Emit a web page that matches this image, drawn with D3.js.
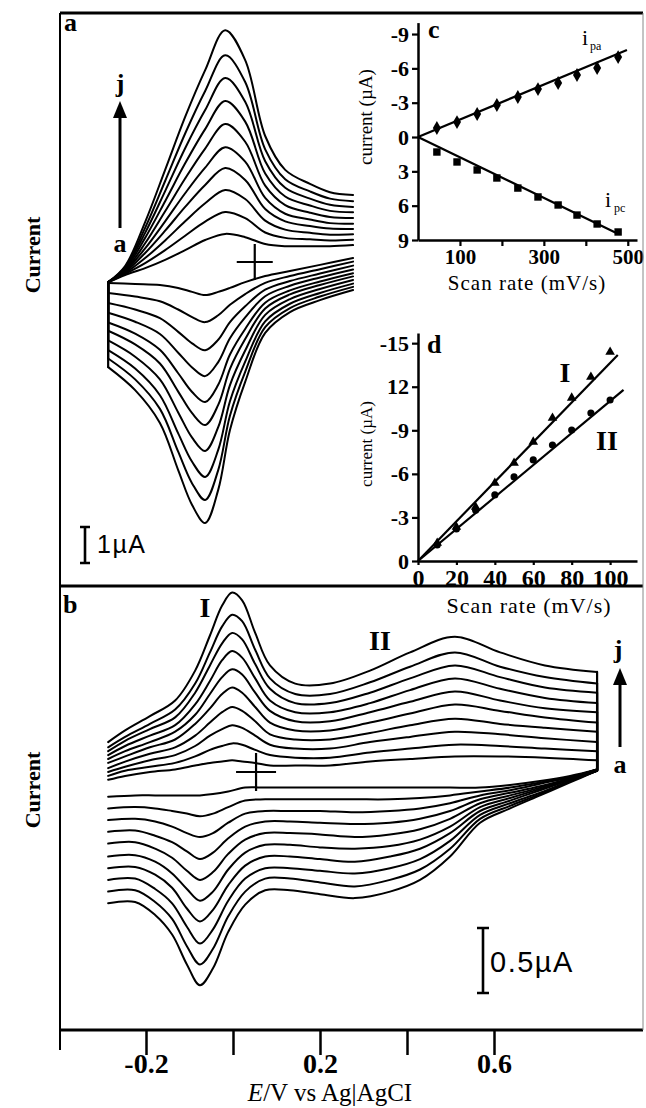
<!DOCTYPE html>
<html><head><meta charset="utf-8">
<script src="https://cdn.jsdelivr.net/npm/d3@7/dist/d3.min.js"></script>
<style>
body{margin:0;background:#fff;}
svg{display:block;}
</style></head><body>
<svg id="fig" width="646" height="1108"></svg>
<script>
// ---------------- DATA ----------------
const scanLabels = ["a","b","c","d","e","f","g","h","i","j"];

// Panel a : forward (anodic) branch, potential grid (V) and currents (µA) per scan a..j
const aFwdE = [-0.287,-0.248,-0.202,-0.156,-0.110,-0.064,-0.018,0.028,0.074,0.120,0.177,0.223,0.276];
const aFwdI = [
 [-0.56,-0.36,-0.17,0.06,0.33,0.61,0.78,0.69,0.50,0.44,0.44,0.44,0.47],
 [-0.56,-0.33,-0.03,0.33,0.73,1.12,1.39,1.22,0.82,0.67,0.63,0.60,0.62],
 [-0.56,-0.31,0.11,0.60,1.13,1.63,2.00,1.75,1.15,0.90,0.81,0.76,0.77],
 [-0.56,-0.28,0.25,0.87,1.53,2.14,2.61,2.28,1.47,1.13,1.00,0.93,0.92],
 [-0.56,-0.25,0.38,1.13,1.91,2.62,3.19,2.79,1.78,1.34,1.18,1.08,1.06],
 [-0.56,-0.23,0.52,1.41,2.32,3.15,3.83,3.34,2.12,1.58,1.37,1.25,1.22],
 [-0.56,-0.20,0.67,1.69,2.74,3.69,4.47,3.90,2.46,1.82,1.57,1.42,1.38],
 [-0.56,-0.17,0.81,1.97,3.16,4.22,5.11,4.45,2.80,2.06,1.76,1.59,1.53],
 [-0.56,-0.14,0.95,2.25,3.57,4.75,5.74,5.00,3.13,2.30,1.96,1.76,1.69],
 [-0.56,-0.11,1.11,2.56,4.03,5.33,6.44,5.61,3.50,2.56,2.17,1.94,1.86]
];
// Panel a : reverse (cathodic) branch
const aRevE = [0.276,0.200,0.131,0.074,0.028,-0.007,-0.034,-0.064,-0.094,-0.126,-0.168,-0.225,-0.287];
const aRevI = [
 [0.11,-0.08,-0.25,-0.39,-0.56,-0.72,-0.83,-0.92,-0.83,-0.72,-0.64,-0.61,-0.58],
 [0.01,-0.20,-0.39,-0.58,-0.89,-1.19,-1.48,-1.67,-1.53,-1.32,-1.09,-0.96,-0.86],
 [-0.10,-0.32,-0.53,-0.77,-1.23,-1.67,-2.16,-2.45,-2.26,-1.94,-1.56,-1.32,-1.14],
 [-0.21,-0.43,-0.66,-0.95,-1.54,-2.12,-2.78,-3.17,-2.93,-2.52,-2.00,-1.66,-1.41],
 [-0.31,-0.54,-0.79,-1.13,-1.86,-2.57,-3.41,-3.89,-3.61,-3.09,-2.44,-1.99,-1.68],
 [-0.40,-0.64,-0.90,-1.29,-2.14,-2.97,-3.97,-4.53,-4.20,-3.60,-2.82,-2.29,-1.91],
 [-0.50,-0.75,-1.03,-1.47,-2.46,-3.42,-4.59,-5.25,-4.88,-4.18,-3.26,-2.63,-2.18],
 [-0.60,-0.86,-1.16,-1.65,-2.77,-3.87,-5.22,-5.97,-5.55,-4.76,-3.70,-2.96,-2.45],
 [-0.69,-0.96,-1.28,-1.81,-3.05,-4.27,-5.78,-6.61,-6.15,-5.27,-4.08,-3.26,-2.68],
 [-0.78,-1.06,-1.39,-1.97,-3.33,-4.67,-6.33,-7.25,-6.75,-5.78,-4.47,-3.56,-2.92]
];

// Panel b : forward branch
const bFwdE = [-0.287,-0.248,-0.191,-0.133,-0.087,-0.053,-0.025,-0.002,0.021,0.051,0.085,0.143,0.223,0.315,0.407,0.510,0.614,0.717,0.837];
const bFwdI = [
 [-0.06,-0.03,0.00,0.02,0.05,0.07,0.08,0.09,0.08,0.07,0.05,0.05,0.05,0.08,0.10,0.12,0.12,0.11,0.09],
 [-0.03,0.01,0.04,0.07,0.12,0.17,0.20,0.22,0.21,0.17,0.13,0.11,0.11,0.15,0.18,0.21,0.20,0.18,0.16],
 [0.00,0.04,0.09,0.13,0.20,0.28,0.33,0.36,0.34,0.28,0.21,0.18,0.18,0.23,0.27,0.31,0.29,0.26,0.23],
 [0.03,0.08,0.14,0.19,0.28,0.38,0.46,0.50,0.47,0.39,0.29,0.25,0.25,0.30,0.36,0.41,0.37,0.34,0.31],
 [0.07,0.12,0.19,0.25,0.37,0.49,0.60,0.65,0.61,0.50,0.38,0.32,0.32,0.38,0.45,0.52,0.47,0.42,0.38],
 [0.10,0.16,0.23,0.31,0.44,0.60,0.73,0.79,0.75,0.61,0.47,0.39,0.39,0.46,0.54,0.62,0.55,0.49,0.46],
 [0.13,0.20,0.28,0.36,0.52,0.70,0.86,0.93,0.88,0.72,0.55,0.46,0.46,0.53,0.63,0.72,0.64,0.57,0.53],
 [0.16,0.24,0.33,0.42,0.61,0.82,0.99,1.07,1.02,0.83,0.64,0.53,0.53,0.61,0.72,0.82,0.73,0.65,0.61],
 [0.19,0.27,0.37,0.48,0.68,0.92,1.12,1.21,1.16,0.94,0.72,0.60,0.60,0.69,0.81,0.92,0.81,0.73,0.68],
 [0.23,0.32,0.43,0.55,0.78,1.05,1.28,1.38,1.32,1.07,0.82,0.68,0.68,0.78,0.92,1.04,0.92,0.82,0.77]
];
// Panel b : reverse branch
const bRevE = [0.837,0.775,0.706,0.637,0.568,0.499,0.430,0.361,0.280,0.200,0.131,0.074,0.028,-0.011,-0.046,-0.076,-0.106,-0.140,-0.179,-0.225,-0.287];
const bRevI = [
 [0.02,-0.03,-0.07,-0.10,-0.12,-0.12,-0.12,-0.12,-0.12,-0.12,-0.12,-0.12,-0.12,-0.15,-0.17,-0.18,-0.18,-0.18,-0.18,-0.18,-0.19],
 [0.02,-0.04,-0.08,-0.12,-0.15,-0.18,-0.20,-0.21,-0.21,-0.21,-0.21,-0.21,-0.22,-0.27,-0.32,-0.34,-0.32,-0.30,-0.28,-0.27,-0.28],
 [0.02,-0.04,-0.09,-0.14,-0.18,-0.24,-0.28,-0.30,-0.31,-0.30,-0.30,-0.30,-0.32,-0.39,-0.47,-0.50,-0.47,-0.42,-0.38,-0.36,-0.37],
 [0.02,-0.05,-0.11,-0.16,-0.21,-0.30,-0.36,-0.39,-0.40,-0.39,-0.38,-0.38,-0.42,-0.51,-0.62,-0.67,-0.61,-0.54,-0.49,-0.45,-0.46],
 [0.02,-0.05,-0.12,-0.18,-0.24,-0.36,-0.44,-0.48,-0.50,-0.48,-0.47,-0.47,-0.52,-0.63,-0.77,-0.83,-0.76,-0.66,-0.59,-0.54,-0.55],
 [0.01,-0.06,-0.13,-0.20,-0.27,-0.42,-0.52,-0.57,-0.59,-0.58,-0.56,-0.56,-0.62,-0.75,-0.92,-0.99,-0.90,-0.78,-0.69,-0.64,-0.65],
 [0.01,-0.06,-0.14,-0.22,-0.30,-0.47,-0.59,-0.65,-0.69,-0.67,-0.65,-0.65,-0.72,-0.87,-1.06,-1.15,-1.05,-0.89,-0.79,-0.73,-0.74],
 [0.01,-0.07,-0.16,-0.24,-0.33,-0.53,-0.67,-0.74,-0.78,-0.76,-0.74,-0.74,-0.82,-0.99,-1.21,-1.32,-1.19,-1.01,-0.90,-0.82,-0.83],
 [0.01,-0.07,-0.17,-0.26,-0.36,-0.59,-0.75,-0.83,-0.88,-0.85,-0.82,-0.82,-0.92,-1.11,-1.36,-1.48,-1.34,-1.13,-1.00,-0.91,-0.92],
 [0.01,-0.08,-0.18,-0.28,-0.39,-0.65,-0.83,-0.92,-0.97,-0.94,-0.91,-0.91,-1.02,-1.23,-1.51,-1.64,-1.48,-1.25,-1.10,-1.00,-1.01]
];

// Panel c : peak currents vs scan rate
const cRate = [45,93,141,188,238,286,334,379,427,477];
const cIpa  = [-0.79,-1.31,-2.01,-2.80,-3.50,-4.19,-4.72,-5.42,-6.03,-6.99];
const cIpc  = [1.31,2.18,2.88,3.58,4.46,5.24,5.94,6.82,7.60,8.30];
const cIpaFit = [[0,0],[498,-7.6]];
const cIpcFit = [[0,0],[474,8.4]];
const cYTicks = [-9,-6,-3,0,3,6,9];
const cYLabels = ["-9","-6","-3","0","3","6","9"];
const cXTicks = [100,200,300,400,500];
const cXLabels = ["100","","300","","500"];

// Panel d : peak currents vs scan rate
const dRate = [10,20,30,40,50,60,70,80,90,100];
const dI  = [-1.24,-2.34,-3.72,-5.37,-6.75,-8.20,-9.85,-11.23,-12.67,-14.39];
const dII = [-1.10,-2.20,-3.50,-4.55,-5.79,-6.96,-7.99,-9.02,-10.19,-11.09];
const dIFit  = [[0,0],[104,-14.19]];
const dIIFit = [[0,0],[107,-11.78]];
const dYTicks = [-15,-12,-9,-6,-3,0];
const dYLabels = ["-15","12","-9","-6","-3","0"];
const dXTicks = [0,20,40,60,80,100];
const dXLabels = ["0","20","40","60","80","100"];

// Potential axis
const eTicks = [-0.2,0,0.2,0.4,0.6];
const eLabels = ["-0.2","","0.2","","0.6"];

// ---------------- DRAWING ----------------
const serif = '"Liberation Serif","Times New Roman",serif';
const sans = '"Liberation Sans",Arial,sans-serif';
const svg = d3.select("#fig");
svg.append("rect").attr("width",646).attr("height",1108).attr("fill","#fff");

const xE = d3.scaleLinear().domain([-0.2,0.6]).range([146,494]);
const yA = d3.scaleLinear().domain([0,1]).range([262,226]);
const yB = d3.scaleLinear().domain([0,0.5]).range([772,707]);

function curveLine(ys){
  return d3.line().x(d=>xE(d[0])).y(d=>ys(d[1])).curve(d3.curveCatmullRom.alpha(0.5));
}
function drawPath(g, pts, gen, sw){
  g.append("path").attr("d",gen(pts)).attr("fill","none").attr("stroke","#000")
   .attr("stroke-width",sw||2).attr("stroke-linejoin","round").attr("stroke-linecap","round");
}
const straight = (ys)=> d3.line().x(d=>xE(d[0])).y(d=>ys(d[1]));

// Panel a CVs
const gA = svg.append("g");
const lineA = curveLine(yA);
scanLabels.forEach((s,k)=>{
  const rev = aRevE.map((e,i)=>[e,aRevI[k][i]]);
  const fwd = aFwdE.map((e,i)=>[e,aFwdI[k][i]]);
  drawPath(gA, rev, lineA, 2);
  drawPath(gA, fwd, lineA, 2);
  drawPath(gA, [rev[rev.length-1], fwd[0]], straight(yA), 2.2);
});

// Crosshair
function cross(g, ys, E, hw, hh){
  const cx = xE(E), cy = ys(0);
  g.append("path").attr("d",`M${cx-hw},${cy}H${cx+hw}M${cx},${cy-hh}V${cy+hh}`)
   .attr("stroke","#000").attr("stroke-width",2.2).attr("fill","none");
}
cross(gA, yA, 0.05, 18, 18);

// scale bar
function scaleBar(g, x, yBottom, len, cap, label, fs, tx, ty){
  g.append("path").attr("d",`M${x},${yBottom}V${yBottom-len}M${x-cap},${yBottom}H${x+cap}M${x-cap},${yBottom-len}H${x+cap}`)
   .attr("stroke","#000").attr("stroke-width",2.6).attr("fill","none");
  g.append("text").attr("x",tx).attr("y",ty).attr("font-family",sans).attr("font-size",fs)
   .attr("letter-spacing",1.5).text(label);
}
scaleBar(gA, 85, 563, yA(0)-yA(1), 5, "1µA", 25, 97, 553);

// arrows
function arrow(g, x, yTip, yEnd){
  g.append("path").attr("d",`M${x},${yTip+14}V${yEnd}`).attr("stroke","#000").attr("stroke-width",3);
  g.append("path").attr("d",`M${x},${yTip}L${x-7},${yTip+17}L${x+7},${yTip+17}Z`).attr("fill","#000");
}
arrow(gA, 120, 101, 228);
function boldText(x,y,t,fs,anchor){
  return svg.append("text").attr("x",x).attr("y",y).attr("font-family",serif).attr("font-weight","bold")
    .attr("font-size",fs).attr("text-anchor",anchor||"start").text(t);
}
boldText(120,92,"j",26,"middle");
boldText(120,252,"a",26,"middle");
boldText(64,31,"a",26);

// ---------- Panel c ----------
const xC = d3.scaleLinear().domain([0,522]).range([418,637]);
const yC = d3.scaleLinear().domain([-10,9]).range([22.6,240]);
function styleAxis(g, fs){
  g.select("path.domain").attr("stroke","#000").attr("stroke-width",2.5);
  g.selectAll(".tick line").attr("stroke","#000").attr("stroke-width",2.2);
  g.selectAll(".tick text").attr("font-family",serif).attr("font-weight","bold")
   .attr("font-size",fs).attr("fill","#000");
}
const gcy = svg.append("g").attr("transform","translate(418,0)")
  .call(d3.axisLeft(yC).tickValues(cYTicks).tickSize(6).tickSizeOuter(0).tickPadding(3)
    .tickFormat((d,i)=>cYLabels[i]));
styleAxis(gcy, 22);
const gcx = svg.append("g").attr("transform","translate(0,240)")
  .call(d3.axisBottom(xC).tickValues(cXTicks).tickSize(6).tickSizeOuter(0)
    .tickFormat((d,i)=>cXLabels[i]));
styleAxis(gcx, 21);
gcx.selectAll(".tick text").attr("y",24).attr("dy",0);

const lc = d3.line().x(d=>xC(d[0])).y(d=>yC(d[1]));
svg.append("path").attr("d",lc(cIpaFit)).attr("stroke","#000").attr("stroke-width",2.2).attr("fill","none");
svg.append("path").attr("d",lc(cIpcFit)).attr("stroke","#000").attr("stroke-width",2.2).attr("fill","none");
svg.append("g").selectAll("path").data(cRate).join("path")
  .attr("transform",(d,i)=>`translate(${xC(d)},${yC(cIpa[i])})`)
  .attr("d",d3.symbol().type(d3.symbolDiamond).size(55)).attr("fill","#000");
svg.append("g").selectAll("path").data(cRate).join("path")
  .attr("transform",(d,i)=>`translate(${xC(d)},${yC(cIpc[i])})`)
  .attr("d",d3.symbol().type(d3.symbolSquare).size(55)).attr("fill","#000");
boldText(428,38,"c",26);
svg.append("text").attr("x",582).attr("y",45).attr("font-family",serif).attr("font-size",22).text("i");
svg.append("text").attr("x",590).attr("y",50).attr("font-family",serif).attr("font-size",12).text("pa");
svg.append("text").attr("x",605).attr("y",207).attr("font-family",serif).attr("font-size",22).text("i");
svg.append("text").attr("x",614).attr("y",212).attr("font-family",serif).attr("font-size",12).text("pc");
svg.append("text").attr("transform","translate(372,117) rotate(-90)").attr("text-anchor","middle")
  .attr("font-family",serif).attr("font-size",19).text("current (µA)");
svg.append("text").attr("x",527).attr("y",290).attr("text-anchor","middle")
  .attr("font-family",serif).attr("font-size",21).attr("letter-spacing",1).text("Scan rate (mV/s)");

// ---------- Panel d ----------
const xD = d3.scaleLinear().domain([0,114]).range([418,637]);
const yD = d3.scaleLinear().domain([-15.7,0]).range([333,561]);
const gdy = svg.append("g").attr("transform","translate(418,0)")
  .call(d3.axisLeft(yD).tickValues(dYTicks).tickSize(6).tickSizeOuter(0).tickPadding(3)
    .tickFormat((d,i)=>dYLabels[i]));
styleAxis(gdy, 22);
const gdx = svg.append("g").attr("transform","translate(0,561)")
  .call(d3.axisBottom(xD).tickValues(dXTicks).tickSize(4).tickSizeOuter(0)
    .tickFormat((d,i)=>dXLabels[i]));
styleAxis(gdx, 24);
gdx.selectAll(".tick text").attr("y",25).attr("dy",0);
const ld = d3.line().x(d=>xD(d[0])).y(d=>yD(d[1]));
svg.append("path").attr("d",ld(dIFit)).attr("stroke","#000").attr("stroke-width",2.2).attr("fill","none");
svg.append("path").attr("d",ld(dIIFit)).attr("stroke","#000").attr("stroke-width",2.2).attr("fill","none");
svg.append("g").selectAll("path").data(dRate).join("path")
  .attr("transform",(d,i)=>`translate(${xD(d)},${yD(dI[i])})`)
  .attr("d",d3.symbol().type(d3.symbolTriangle).size(40)).attr("fill","#000");
svg.append("g").selectAll("path").data(dRate).join("path")
  .attr("transform",(d,i)=>`translate(${xD(d)},${yD(dII[i])})`)
  .attr("d",d3.symbol().type(d3.symbolCircle).size(40)).attr("fill","#000");
boldText(427,353,"d",26);
boldText(565,382,"I",28,"middle");
boldText(607,450,"II",28,"middle");
svg.append("text").attr("transform","translate(372,444) rotate(-90)").attr("text-anchor","middle")
  .attr("font-family",serif).attr("font-size",17).text("current (µA)");

// ---------- Panel b ----------
svg.append("rect").attr("x",61).attr("y",587).attr("width",582).attr("height",442).attr("fill","#fff");
svg.append("text").attr("x",529).attr("y",613).attr("text-anchor","middle")
  .attr("font-family",serif).attr("font-size",22).attr("letter-spacing",1).text("Scan rate (mV/s)");

const gB = svg.append("g");
const lineB = curveLine(yB);
scanLabels.forEach((s,k)=>{
  const fwd = bFwdE.map((e,i)=>[e,bFwdI[k][i]]);
  const rev = bRevE.map((e,i)=>[e,bRevI[k][i]]);
  drawPath(gB, fwd, lineB, 2);
  drawPath(gB, rev, lineB, 2);
  drawPath(gB, [fwd[fwd.length-1], rev[0]], straight(yB), 2.2);
});
cross(gB, yB, 0.053, 20, 19);
scaleBar(gB, 483, 993, yB(0)-yB(0.5), 6, "0.5µA", 29, 490, 972);
arrow(gB, 620, 668, 747);
boldText(618,658,"j",26,"middle");
boldText(620,773,"a",26,"middle");
boldText(63,613,"b",26);
boldText(205,617,"I",28,"middle");
boldText(380,650,"II",28,"middle");

// ---------- Potential axis ----------
const gE = svg.append("g").attr("transform","translate(0,1030)")
  .call(d3.axisBottom(xE).tickValues(eTicks).tickSize(25).tickSizeOuter(0)
    .tickFormat((d,i)=>eLabels[i]));
gE.select("path.domain").remove();
gE.selectAll(".tick line").attr("stroke","#000").attr("stroke-width",2.5);
gE.selectAll(".tick text").attr("font-family",serif).attr("font-weight","bold")
  .attr("font-size",28).attr("fill","#000").attr("y",43).attr("dy",0);
const tE = svg.append("text").attr("x",330).attr("y",1101).attr("text-anchor","middle")
  .attr("font-family",serif).attr("font-size",25);
tE.append("tspan").attr("font-style","italic").text("E");
tE.append("tspan").text("/V vs Ag|AgCI");

// frame
const frame = svg.append("g").attr("stroke","#000").attr("fill","none");
frame.append("path").attr("d","M60,13H643").attr("stroke-width",3);
frame.append("path").attr("d","M60,13V1050").attr("stroke-width",2);
frame.append("path").attr("d","M60,586H643").attr("stroke-width",3);
frame.append("path").attr("d","M60,1030H643").attr("stroke-width",3);
frame.append("path").attr("d","M643,13V1030").attr("stroke-width",1).attr("stroke","#888");

// side labels
svg.append("text").attr("transform","translate(40,255) rotate(-90)").attr("text-anchor","middle")
  .attr("font-family",serif).attr("font-weight","bold").attr("font-size",22).text("Current");
svg.append("text").attr("transform","translate(40,790) rotate(-90)").attr("text-anchor","middle")
  .attr("font-family",serif).attr("font-weight","bold").attr("font-size",22).text("Current");
</script>
</body></html>
